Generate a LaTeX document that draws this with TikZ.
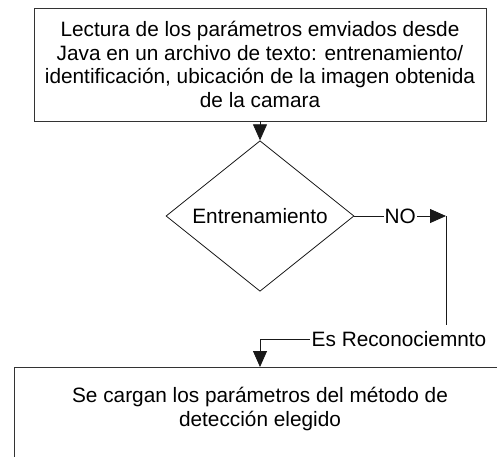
\documentclass[tikz,border=0pt]{standalone}
\usepackage{fontspec}
\setmainfont{Liberation Sans}
\usetikzlibrary{shapes.geometric,arrows.meta}
\begin{document}
\begin{tikzpicture}[x=1pt,y=-1pt,
  font=\fontsize{20.8}{23.4}\selectfont,
  line width=0.8pt,
  box/.style={draw=black!80, rectangle, inner sep=0pt},
  dec/.style={draw=black!90, diamond, inner sep=0pt, minimum width=188pt, minimum height=112pt},
  arr/.style={draw=black!90, -{Triangle[length=16pt,width=14pt]}},
  lbl/.style={fill=white, inner sep=2pt}]
\useasboundingbox (0,0) rectangle (497,456);
\clip (0,0) rectangle (497,456);
\node[box, minimum width=452pt, minimum height=113pt, align=center] (read) at (260,64.5)
  {Lectura de los parámetros emviados desde\\Java en un archivo de texto: entrenamiento/\\identificación, ubicación de la imagen obtenida\\de la camara};
\node[dec] (ent) at (260,216) {Entrenamiento};
\node[box, anchor=north west, minimum width=500pt, minimum height=120pt] (sel) at (14,367) {};
\node[align=center] (seltxt) at (260,409) {Se cargan los parámetros del método de\\detección elegido};
\coordinate (c1) at (446,216);
\coordinate (c2) at (446,339);
\coordinate (c3) at (260,339);
\draw[arr] (read.south) -- (ent.north);
\draw[arr] (ent.east) -- node[lbl, inner xsep=1pt] (no) {NO} (c1);
\draw[arr] (c1) -- (c2) -- (c3) -- (c3 |- sel.north);
\node[lbl, inner ysep=6pt] (esr) at (399,339) {Es Reconociemnto};
\end{tikzpicture}
\end{document}
